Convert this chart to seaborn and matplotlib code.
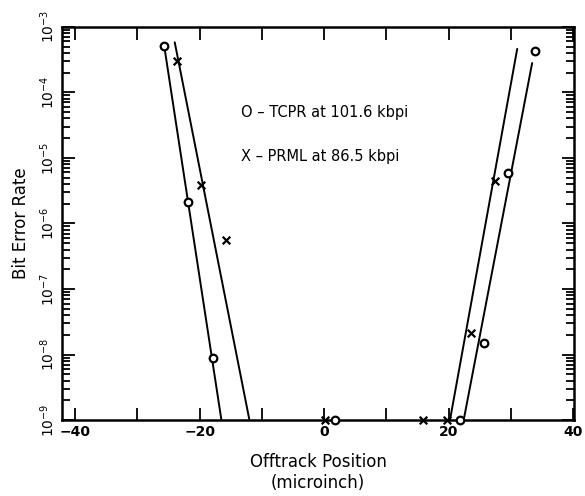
import matplotlib
matplotlib.use("Agg")
import matplotlib.pyplot as plt
import matplotlib.ticker as mticker
import seaborn as sns
import pandas as pd

tcpr_x = [-25.7, -21.8, -17.9, 1.7, 21.8, 25.6, 29.6, 33.8]
tcpr_y = [5.1e-4, 2.1e-6, 9e-9, 1e-9, 1e-9, 1.5e-8, 5.9e-6, 4.3e-4]

prml_x = [-23.7, -19.8, -15.7, 0.2, 15.8, 19.8, 23.5, 27.5]
prml_y = [3e-4, 3.9e-6, 5.6e-7, 1e-9, 1e-9, 1e-9, 2.1e-8, 4.5e-6]

# --- fitted line end points ---
tcpr_left_x = [-25.6, -16.5]
tcpr_left_y = [4.5e-4, 1e-9]
prml_left_x = [-24.0, -12.0]
prml_left_y = [5.8e-4, 1e-9]
prml_right_x = [20.2, 31.0]
prml_right_y = [1e-9, 4.6e-4]
tcpr_right_x = [22.4, 33.4]
tcpr_right_y = [1e-9, 2.8e-4]

y_decades = [1e-9, 1e-8, 1e-7, 1e-6, 1e-5, 1e-4, 1e-3]
legend_lines = ["O \u2013 TCPR at 101.6 kbpi", "X \u2013 PRML at 86.5 kbpi"]

sns.set_style("ticks", {"axes.edgecolor": "black", "text.color": "black",
                        "xtick.color": "black", "ytick.color": "black",
                        "axes.labelcolor": "black"})
plt.rcParams['font.family'] = ['DejaVu Sans']

fig = plt.figure(figsize=(5.85, 4.96), dpi=100)
ax = fig.add_axes([0.106, 0.153, 0.875, 0.793])

for lx, ly in [(tcpr_left_x, tcpr_left_y), (prml_left_x, prml_left_y),
               (prml_right_x, prml_right_y), (tcpr_right_x, tcpr_right_y)]:
    sns.lineplot(x=lx, y=ly, ax=ax, color="black", linewidth=1.4, sort=False)

df_o = pd.DataFrame({"x": tcpr_x, "y": tcpr_y})
df_x = pd.DataFrame({"x": prml_x, "y": prml_y})
sns.scatterplot(data=df_o, x="x", y="y", ax=ax, marker="o", s=30,
                facecolor="white", edgecolor="black", linewidth=1.6, zorder=5, clip_on=False)
sns.scatterplot(data=df_x, x="x", y="y", ax=ax, marker="x", s=30,
                color="black", linewidth=1.6, zorder=5, clip_on=False)

ax.set_yscale("log")
ax.set_xlim(-42.1, 40.1)
ax.set_ylim(1e-9, 1e-3)

ax.xaxis.set_major_locator(mticker.MultipleLocator(20))
ax.xaxis.set_minor_locator(mticker.MultipleLocator(10))
minor_y = [m * d for d in y_decades[:-1] for m in range(2, 10)]
ax.yaxis.set_major_locator(mticker.FixedLocator(y_decades))
ax.yaxis.set_minor_locator(mticker.FixedLocator(minor_y))
ax.yaxis.set_major_formatter(mticker.LogFormatterSciNotation())
ax.yaxis.set_minor_formatter(mticker.NullFormatter())

ax.tick_params(which="both", direction="in", top=True, right=True, width=1.3,
               labelsize=10, colors="black")
ax.tick_params(which="major", length=9)
ax.tick_params(which="minor", length=6)
ax.tick_params(axis="x", which="minor", length=9)
ax.tick_params(axis="y", which="major", labelrotation=90)
for lab in ax.get_yticklabels():
    lab.set_va("center")
for lab in ax.get_xticklabels():
    lab.set_fontweight("semibold")

for sp in ax.spines.values():
    sp.set_linewidth(1.8)
    sp.set_color("black")

ax.set_xlabel("Offtrack Position\n(microinch)", fontsize=12, labelpad=10, color="black")
ax.set_ylabel("Bit Error Rate", fontsize=12, labelpad=6, color="black")

ax.text(-13.4, 10**-4.30, legend_lines[0], fontsize=10.5, va="center", ha="left", color="black")
ax.text(-13.4, 10**-4.98, legend_lines[1], fontsize=10.5, va="center", ha="left", color="black")

fig.savefig("out.png", dpi=100)
